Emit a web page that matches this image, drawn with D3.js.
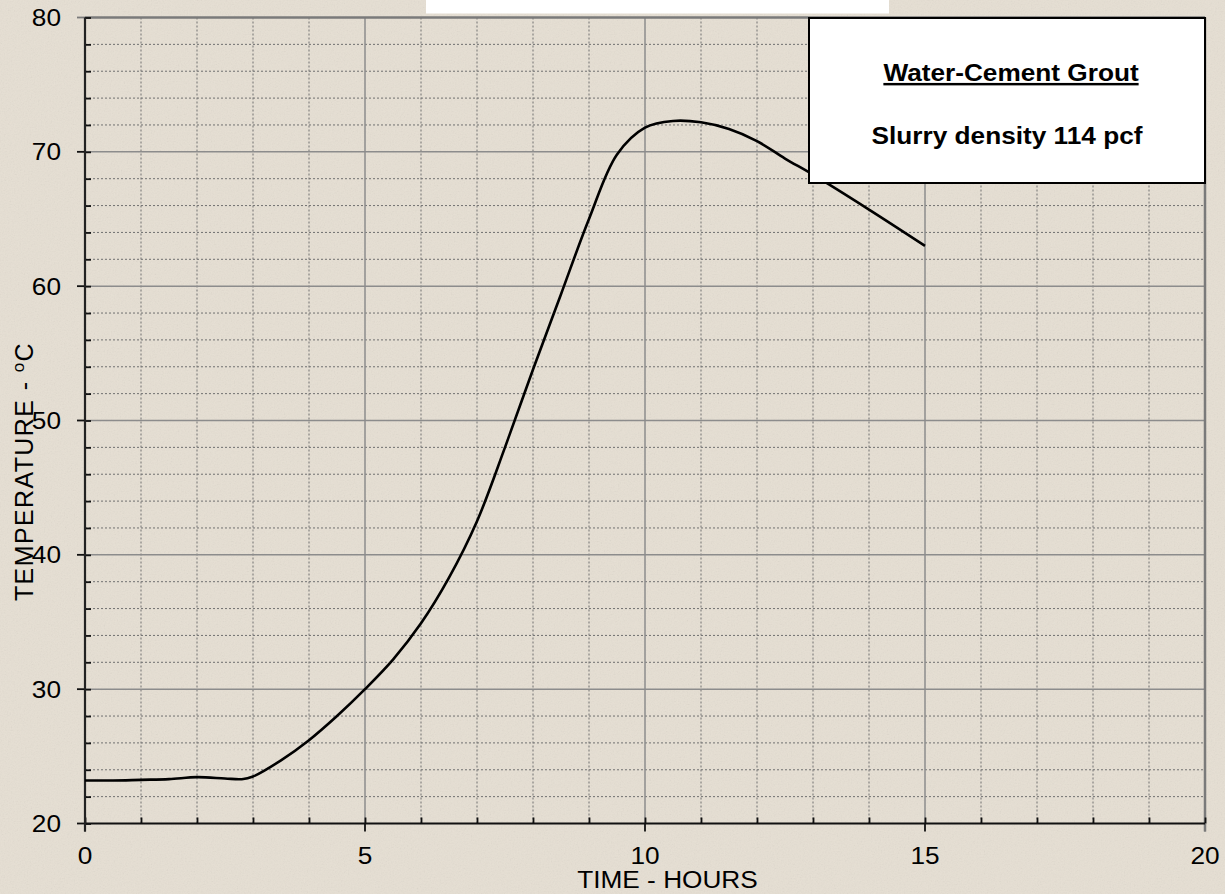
<!DOCTYPE html>
<html><head><meta charset="utf-8">
<script src="https://cdn.jsdelivr.net/npm/d3@7"></script>
<style>body{margin:0;background:#e3dccf;} svg{display:block}</style>
</head><body><svg id="c" width="1225" height="894"></svg>
<script>
// Data
const hours = [0, 0.5, 1, 1.5, 2, 2.5, 2.8, 3, 3.5, 4, 4.5, 5, 5.5, 6, 6.5, 7, 7.5, 8, 8.5, 9, 9.5, 10, 10.5, 11, 11.5, 12, 12.5, 13, 14, 15];
const temps = [23.2, 23.2, 23.25, 23.3, 23.45, 23.35, 23.3, 23.5, 24.7, 26.2, 28.0, 30.0, 32.2, 34.9, 38.3, 42.5, 48.0, 53.8, 59.4, 65.0, 69.8, 71.8, 72.3, 72.2, 71.7, 70.8, 69.5, 68.3, 65.7, 63.0];
const xTickLabels = [0, 5, 10, 15, 20];
const yTickLabels = [20, 30, 40, 50, 60, 70, 80];
const xMinor = d3.range(0, 21, 1);
const yMinor = d3.range(20, 81, 2);
const legendTitle = "Water-Cement Grout";
const legendSub = "Slurry density 114 pcf";
const xTitle = "TIME - HOURS";
const yTitle = "TEMPERATURE - ";

const svg = d3.select("#c");
const L = 85, R = 1205, T = 17.5, B = 823.5;
const x = d3.scaleLinear().domain([0, 20]).range([L, R]);
const y = d3.scaleLinear().domain([20, 80]).range([B, T]);
const SX = 1.07;
const font = "Arial, 'Liberation Sans', sans-serif";

// background texture
const defs = svg.append("defs");
const f = defs.append("filter").attr("id", "noise").attr("x", 0).attr("y", 0).attr("width", "100%").attr("height", "100%");
f.append("feTurbulence").attr("type", "fractalNoise").attr("baseFrequency", 0.7).attr("numOctaves", 3).attr("seed", 7);
f.append("feColorMatrix").attr("type", "saturate").attr("values", 0);
svg.append("rect").attr("width", 1225).attr("height", 894).attr("fill", "#e6dfd3");
svg.append("rect").attr("width", 1225).attr("height", 894).attr("filter", "url(#noise)").attr("opacity", 0.12);

// title box (cut off at top)
svg.append("rect").attr("x", 426).attr("y", -2).attr("width", 463).attr("height", 15.5).attr("fill", "#fff");

// grid minor
const g = svg.append("g");
g.selectAll(".vx").data(xMinor.filter(d => d % 5 !== 0)).join("line")
  .attr("x1", d => x(d)).attr("x2", d => x(d)).attr("y1", T).attr("y2", B)
  .attr("stroke", "#707070").attr("stroke-width", 1).attr("stroke-dasharray", "2,2");
g.selectAll(".hy").data(yMinor.filter(d => d % 10 !== 0)).join("line")
  .attr("x1", L).attr("x2", R).attr("y1", d => y(d)).attr("y2", d => y(d))
  .attr("stroke", "#707070").attr("stroke-width", 1).attr("stroke-dasharray", "2,2");
// grid major
g.selectAll(".vX").data(xTickLabels.filter(d => d > 0 && d < 20)).join("line")
  .attr("x1", d => x(d)).attr("x2", d => x(d)).attr("y1", T).attr("y2", B)
  .attr("stroke", "#8c8c8c").attr("stroke-width", 1.5);
g.selectAll(".hY").data(yTickLabels.filter(d => d > 20 && d < 80)).join("line")
  .attr("x1", L).attr("x2", R).attr("y1", d => y(d)).attr("y2", d => y(d))
  .attr("stroke", "#8c8c8c").attr("stroke-width", 1.5);

// top / right border
svg.append("line").attr("x1", L).attr("x2", R).attr("y1", T).attr("y2", T).attr("stroke", "#7a7a7a").attr("stroke-width", 2.5);
svg.append("line").attr("x1", R).attr("x2", R).attr("y1", T).attr("y2", B + 8).attr("stroke", "#7a7a7a").attr("stroke-width", 2.5);

// axes
const axB = svg.append("g").attr("transform", `translate(0,${B})`)
  .call(d3.axisBottom(x).tickValues(xMinor).tickSize(-6).tickFormat(""));
axB.select(".domain").remove();
axB.selectAll("line").attr("stroke", "#111").attr("stroke-width", 1.8);
svg.append("g").selectAll("line").data(xTickLabels).join("line")
  .attr("x1", d => x(d)).attr("x2", d => x(d)).attr("y1", B).attr("y2", B + 8)
  .attr("stroke", d => d === 20 ? "#7a7a7a" : "#111").attr("stroke-width", 1.8);
const axL = svg.append("g").attr("transform", `translate(${L},0)`)
  .call(d3.axisRight(y).tickValues(yMinor).tickSize(6).tickFormat(""));
axL.select(".domain").remove();
axL.selectAll("line").attr("stroke", "#111").attr("stroke-width", 1.8);
svg.append("g").selectAll("line").data(yTickLabels).join("line")
  .attr("x1", L - 8).attr("x2", L).attr("y1", d => y(d)).attr("y2", d => y(d))
  .attr("stroke", d => d === 80 ? "#7a7a7a" : "#111").attr("stroke-width", 1.8);
svg.append("line").attr("x1", L).attr("x2", R).attr("y1", B).attr("y2", B).attr("stroke", "#111").attr("stroke-width", 2.2);
svg.append("line").attr("x1", L).attr("x2", L).attr("y1", T).attr("y2", B + 8).attr("stroke", "#222").attr("stroke-width", 2.2);

// tick labels
svg.append("g").selectAll("text").data(yTickLabels).join("text")
  .attr("transform", d => `translate(61,${y(d) + 8.5}) scale(${SX},1)`)
  .attr("text-anchor", "end").attr("font-family", font).attr("font-size", 24.5).attr("fill", "#000")
  .text(d => d);
svg.append("g").selectAll("text").data(xTickLabels).join("text")
  .attr("transform", d => `translate(${x(d)},864) scale(${SX},1)`)
  .attr("text-anchor", "middle").attr("font-family", font).attr("font-size", 24.5).attr("fill", "#000")
  .text(d => d);

// axis titles
svg.append("text").attr("transform", `translate(667.5,887.5) scale(${SX},1)`)
  .attr("text-anchor", "middle").attr("font-family", font).attr("font-size", 24.5).text(xTitle);
const yt = svg.append("text").attr("transform", `translate(32.5,471.5) rotate(-90)`)
  .attr("text-anchor", "middle").attr("font-family", font).attr("font-size", 25)
  .attr("letter-spacing", 1.4);
yt.append("tspan").text(yTitle);
yt.append("tspan").attr("font-size", 17).attr("dy", -9).text("o");
yt.append("tspan").attr("dy", 9).text("C");

// curve
const pts = hours.map((h, i) => [h, temps[i]]);
svg.append("path").datum(pts)
  .attr("d", d3.line().x(d => x(d[0])).y(d => y(d[1])).curve(d3.curveCatmullRom.alpha(0.5)))
  .attr("fill", "none").attr("stroke", "#000").attr("stroke-width", 2.6);

// legend box
svg.append("rect").attr("x", 809).attr("y", 18).attr("width", 396).attr("height", 165)
  .attr("fill", "#fff").attr("stroke", "#000").attr("stroke-width", 2);
svg.append("text").attr("transform", `translate(1011,81) scale(${SX},1)`)
  .attr("text-anchor", "middle").attr("font-family", font).attr("font-weight", "bold").attr("font-size", 24.5)
  .attr("text-decoration", "underline").text(legendTitle);
svg.append("text").attr("transform", `translate(1007,144) scale(${SX},1)`)
  .attr("text-anchor", "middle").attr("font-family", font).attr("font-weight", "bold").attr("font-size", 24.5)
  .text(legendSub);
</script></body></html>
